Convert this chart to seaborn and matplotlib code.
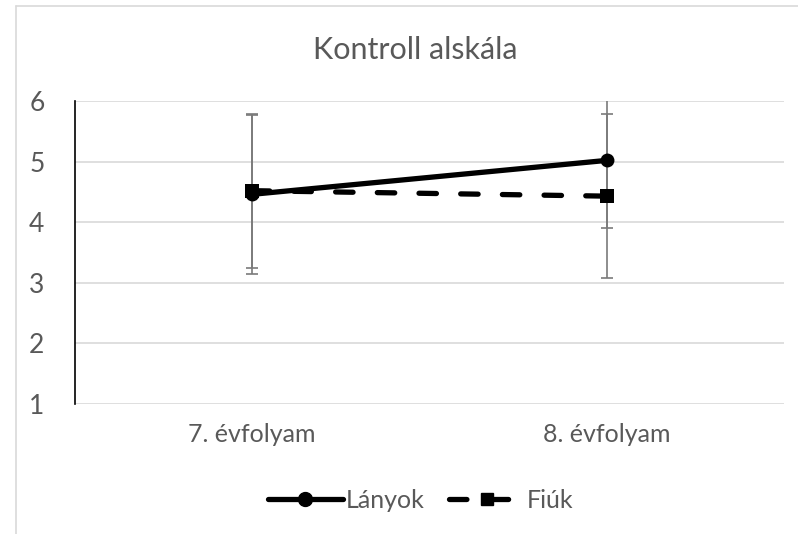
import matplotlib
matplotlib.use("Agg")
import matplotlib.pyplot as plt
from matplotlib.lines import Line2D
import seaborn as sns
import pandas as pd

# chart values
categories = ["7. évfolyam", "8. évfolyam"]
groups = ["Lányok", "Fiúk"]
lanyok_mean = [4.46, 5.02]
lanyok_sd = [1.31, 1.12]
fiuk_mean = [4.52, 4.43]
fiuk_sd = [1.27, 1.35]

df = pd.DataFrame({
    "evfolyam": categories * 2,
    "csoport": [groups[0]] * 2 + [groups[1]] * 2,
    "atlag": lanyok_mean + fiuk_mean,
})

sns.set_style("white")
plt.rcParams['font.family'] = ['Lato', 'DejaVu Sans']
text_col = "#595959"
lw = 3.8
dash = (3.3, 4.6)

fig = plt.figure(figsize=(7.98, 5.34), dpi=100)
ax = fig.add_axes([75 / 798, 1 - 404 / 534, 709 / 798, 303 / 534])

# error bars behind the lines
ax.errorbar(categories, lanyok_mean, yerr=lanyok_sd, fmt="none", ecolor="#7a7a7a",
            elinewidth=1.2, capsize=4.3, capthick=1.2, zorder=1)
ax.errorbar(categories, fiuk_mean, yerr=fiuk_sd, fmt="none", ecolor="#7a7a7a",
            elinewidth=1.2, capsize=4.3, capthick=1.2, zorder=1)

sns.lineplot(data=df, x="evfolyam", y="atlag", hue="csoport", style="csoport",
             palette={"Lányok": "black", "Fiúk": "black"},
             dashes={"Lányok": "", "Fiúk": dash},
             markers={"Lányok": "o", "Fiúk": "s"},
             markersize=10, linewidth=lw, markeredgewidth=0,
             legend=False, ax=ax, zorder=3)
for ln in ax.get_lines():
    ln.set_dash_capstyle("round")
    ln.set_solid_capstyle("round")

ax.set_xlim(-0.5, 1.5)
ax.set_ylim(1, 6)
ax.set_yticks([1, 2, 3, 4, 5, 6])
ax.set_xlabel("")
ax.set_ylabel("")
ax.grid(axis="y", color="#d9d9d9", linewidth=1.2)
ax.grid(axis="x", visible=False)
ax.set_axisbelow(True)
for s in ["top", "right", "bottom"]:
    ax.spines[s].set_visible(False)
ax.spines["left"].set_color("black")
ax.spines["left"].set_linewidth(1.2)
ax.spines["left"].set_zorder(4)
ax.tick_params(axis="y", length=0, pad=22, labelsize=19, labelcolor=text_col)
ax.tick_params(axis="x", length=0, pad=14, labelsize=18, labelcolor=text_col)

fig.text(0.52, 1 - 50 / 534, "Kontroll alskála", ha="center", va="center",
         fontsize=22, color=text_col)

handles = [
    Line2D([], [], color="black", lw=lw, marker="o", markersize=10,
           solid_capstyle="round"),
    Line2D([], [], color="black", lw=lw, marker="s", markersize=9,
           linestyle=(0, dash), dash_capstyle="round"),
]
leg = fig.legend(handles, groups, loc="center", bbox_to_anchor=(0.527, 1 - 500 / 534),
                 ncol=2, frameon=False, fontsize=18, handlelength=3.0,
                 handletextpad=0.1, columnspacing=1.0)
for t in leg.get_texts():
    t.set_color(text_col)

# light chart-area border (left and top edges visible)
fig.add_artist(Line2D([16 / 798, 16 / 798], [0, 1 - 6 / 534], transform=fig.transFigure,
                      color="#d9d9d9", lw=1.2))
fig.add_artist(Line2D([16 / 798, 1], [1 - 6 / 534, 1 - 6 / 534], transform=fig.transFigure,
                      color="#d9d9d9", lw=1.2))

fig.savefig("out.png", dpi=100)
